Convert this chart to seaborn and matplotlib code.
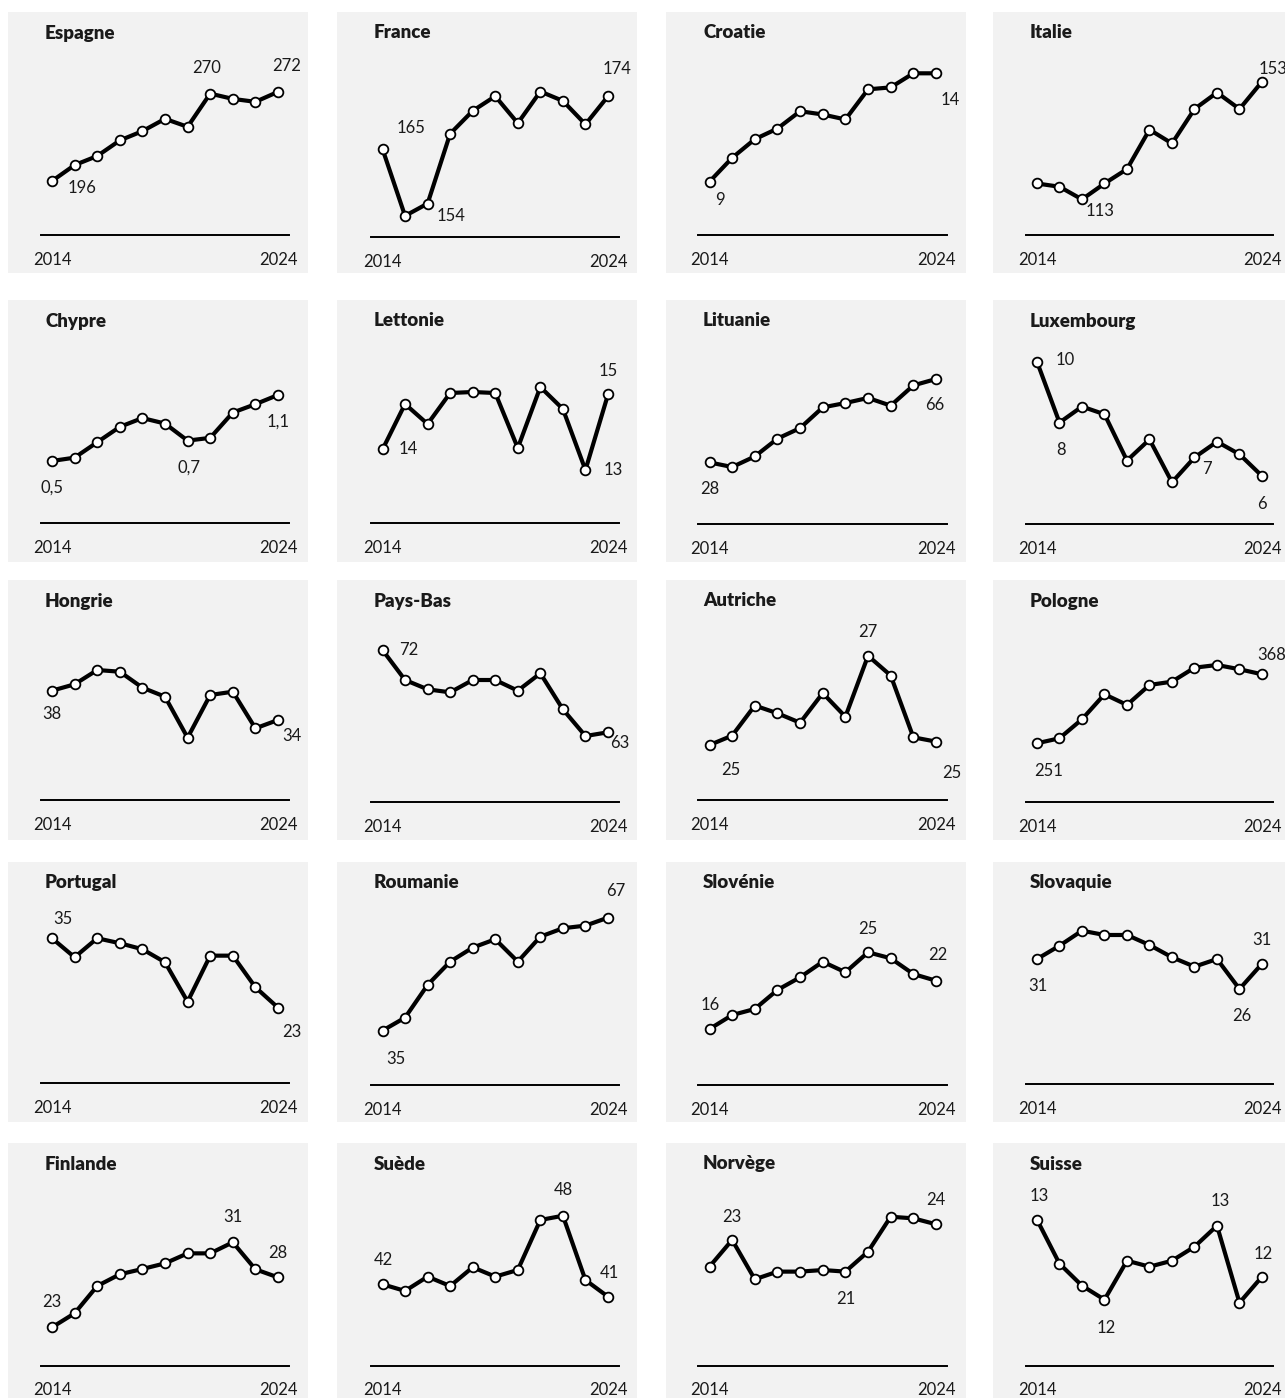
import matplotlib
matplotlib.use("Agg")
import matplotlib.pyplot as plt
from matplotlib.patches import Rectangle
import seaborn as sns
import pandas as pd

# ---------------- data ----------------
years = list(range(2014, 2025))

countries = ["Espagne", "France", "Croatie", "Italie",
             "Chypre", "Lettonie", "Lituanie", "Luxembourg",
             "Hongrie", "Pays-Bas", "Autriche", "Pologne",
             "Portugal", "Roumanie", "Slovénie", "Slovaquie",
             "Finlande", "Suède", "Norvège", "Suisse"]

espagne = [196, 209.6, 217.3, 230.6, 238.5, 249, 242.2, 270.5, 266, 263.5, 272]
france = [165, 153.6, 155.7, 167.6, 171.5, 174, 169.4, 174.8, 173.2, 169.2, 174]
croatie = [9.0, 10.1, 10.96, 11.45, 12.25, 12.1, 11.87, 13.26, 13.35, 14.0, 14.0]
italie = [118.4, 117.3, 113, 118.4, 123.3, 136.7, 132, 143.7, 149.3, 143.7, 153]
chypre = [0.5, 0.53, 0.67, 0.81, 0.89, 0.84, 0.685, 0.71, 0.94, 1.016, 1.1]
lettonie = [13.6, 14.51, 14.11, 14.73, 14.75, 14.73, 13.63, 14.85, 14.41, 13.19, 14.70]
lituanie = [28.0, 25.9, 30.7, 38.8, 43.6, 53.0, 55.0, 57.3, 53.8, 63.0, 65.9]
luxembourg = [10, 7.87, 8.43, 8.16, 6.54, 7.28, 5.78, 6.65, 7.2, 6.76, 6.0]
hongrie = [38, 38.87, 40.82, 40.59, 38.41, 37.18, 31.58, 37.41, 37.86, 32.86, 34]
pays_bas = [72, 68.72, 67.70, 67.37, 68.72, 68.72, 67.55, 69.45, 65.51, 62.59, 63]
autriche = [24.92, 25.14, 25.84, 25.66, 25.44, 26.13, 25.58, 27.0, 26.54, 25.10, 25.0]
pologne = [251, 259.5, 291.7, 334.1, 316, 349.9, 355.5, 379.2, 383.8, 376.5, 368]
portugal = [35, 31.71, 35, 34.14, 33.10, 30.85, 24.04, 31.99, 31.99, 26.53, 23.0]
roumanie = [35, 38.68, 47.94, 54.54, 58.51, 60.88, 54.54, 61.62, 64.0, 64.74, 67.0]
slovenie = [16.36, 17.95, 18.64, 20.8, 22.24, 24.01, 22.81, 25.08, 24.4, 22.61, 21.85]
slovaquie = [31.3, 33.57, 36.13, 35.4, 35.4, 33.69, 31.6, 30.0, 31.3, 26.19, 30.5]
finlande = [23, 24.32, 26.89, 27.99, 28.49, 29.02, 29.96, 29.96, 31.0, 28.46, 27.7]
suede = [41.94, 41.37, 42.59, 41.79, 43.39, 42.59, 43.16, 47.42, 47.78, 42.30, 40.88]
norvege = [21.19, 22.86, 20.4, 20.88, 20.88, 20.98, 20.88, 22.13, 24.31, 24.21, 23.84]
suisse = [12.76, 12.32, 12.10, 11.96, 12.35, 12.29, 12.35, 12.49, 12.70, 11.93, 12.19]

series = [espagne, france, croatie, italie, chypre, lettonie, lituanie, luxembourg,
          hongrie, pays_bas, autriche, pologne, portugal, roumanie, slovenie, slovaquie,
          finlande, suede, norvege, suisse]

# value labels shown: (point index, text)
labels = [
    [(0, "196"), (7, "270"), (10, "272")],
    [(0, "165"), (1, "154"), (10, "174")],
    [(0, "9"), (10, "14")],
    [(2, "113"), (10, "153")],
    [(0, "0,5"), (6, "0,7"), (10, "1,1")],
    [(0, "14"), (9, "13"), (10, "15")],
    [(0, "28"), (10, "66")],
    [(0, "10"), (1, "8"), (8, "7"), (10, "6")],
    [(0, "38"), (10, "34")],
    [(0, "72"), (10, "63")],
    [(0, "25"), (7, "27"), (10, "25")],
    [(0, "251"), (10, "368")],
    [(0, "35"), (10, "23")],
    [(0, "35"), (10, "67")],
    [(0, "16"), (7, "25"), (10, "22")],
    [(0, "31"), (9, "26"), (10, "31")],
    [(0, "23"), (8, "31"), (10, "28")],
    [(0, "42"), (8, "48"), (10, "41")],
    [(1, "23"), (6, "21"), (10, "24")],
    [(0, "13"), (3, "12"), (8, "13"), (10, "12")],
]

# ---------------- layout / style ----------------
# label offsets in pixels (dx, dy; dy up)
label_offsets = [
    [(30, -7), (-4, 26), (9, 26)],
    [(29, 21), (46, 0), (9, 27)],
    [(10, -18), (14, -27)],
    [(18, -12), (11, 13)],
    [(0, -27), (1, -27), (0, -27)],
    [(26, 0), (28, 0), (0, 24)],
    [(0, -27), (-1, -26)],
    [(28, 2), (2, -27), (-10, -27), (0, -28)],
    [(0, -23), (14, -16)],
    [(26, 0), (12, -11)],
    [(21, -25), (0, 24), (16, -31)],
    [(12, -28), (10, 19)],
    [(11, 19), (14, -24)],
    [(13, -28), (8, 27)],
    [(1, 24), (0, 23), (2, 26)],
    [(1, -27), (2, -27), (0, 24)],
    [(0, 25), (0, 25), (0, 24)],
    [(1, 24), (0, 26), (1, 24)],
    [(0, 23), (0, -27), (0, 24)],
    [(2, 24), (2, -28), (3, 25), (1, 23)],
]

ylims = [(150, 300), (150, 180), (6.54, 14.66), (100.9, 160.7),
         (-0.064, 1.536), (12.13, 15.65), (0, 80), (4.32, 10.48),
         (23.08, 47.1), (55.37, 74.63), (23.64, 27.74), (151.4, 449.9),
         (9.98, 40.4), (19.6, 69.45), (10, 30), (10, 40),
         (19.39, 35.95), (35, 50), (15, 26), (11.30, 13.06)]

W, H = 1285, 1398
col_bg = [(8, 308), (337, 637), (666, 966), (993, 1285)]
row_bg = [(12, 273), (300, 562), (580, 840), (862, 1122), (1143, 1398)]
first_pt = [52, 382.5, 709.5, 1037]
last_pt = [278, 608, 936, 1262]
baselines = [[235, 237, 235, 235],
             [523, 523, 524, 524],
             [800, 802, 800, 802],
             [1083, 1085, 1085, 1084],
             [1365.7, 1365.7, 1365.7, 1365.7]]
plot_h = 176

sns.set_theme(style="white")
plt.rcParams["font.family"] = ["Lato", "DejaVu Sans"]
txt_color = "#1a1a1a"
fs = 12

fig = plt.figure(figsize=(W / 100, H / 100), dpi=100)
fig.patch.set_facecolor("white")

for i, name in enumerate(countries):
    r, c = divmod(i, 4)
    bx0, bx1 = col_bg[c]
    by0, by1 = row_bg[r]
    fig.add_artist(Rectangle((bx0 / W, 1 - by1 / H), (bx1 - bx0) / W, (by1 - by0) / H,
                             transform=fig.transFigure, facecolor="#F2F2F2",
                             edgecolor="none", zorder=-5))
    fig.text((bx0 + 37) / W, 1 - (by0 + 21) / H, name, fontsize=13.5, fontweight="heavy",
             color=txt_color, ha="left", va="center")

    step = (last_pt[c] - first_pt[c]) / 10
    left = first_pt[c] - step / 2
    right = last_pt[c] + step / 2
    base = baselines[r][c]
    ax = fig.add_axes([left / W, 1 - base / H, (right - left) / W, plot_h / H])
    ax.set_facecolor("none")

    df = pd.DataFrame({"year": years, "value": series[i]})
    sns.lineplot(data=df, x="year", y="value", ax=ax, color="black", linewidth=3.0,
                 marker="o", markersize=7, markerfacecolor="white",
                 markeredgecolor="black", markeredgewidth=1.3, clip_on=False)

    ax.set_xlim(2013.5, 2024.5)
    ax.set_ylim(*ylims[i])
    ax.set_xticks([2014, 2024])
    ax.set_xticklabels(["2014", "2024"], fontsize=fs, color=txt_color)
    ax.set_yticks([])
    ax.tick_params(axis="x", length=0, pad=12)
    ax.set_xlabel("")
    ax.set_ylabel("")
    for s in ["top", "left", "right"]:
        ax.spines[s].set_visible(False)
    ax.spines["bottom"].set_color("black")
    ax.spines["bottom"].set_linewidth(1.4)

    for (idx, t), (dx, dy) in zip(labels[i], label_offsets[i]):
        ax.annotate(t, xy=(years[idx], series[i][idx]), xytext=(dx, dy),
                    textcoords="offset pixels", ha="center", va="center",
                    fontsize=fs, color=txt_color, annotation_clip=False)

fig.savefig("out.png", dpi=100)
